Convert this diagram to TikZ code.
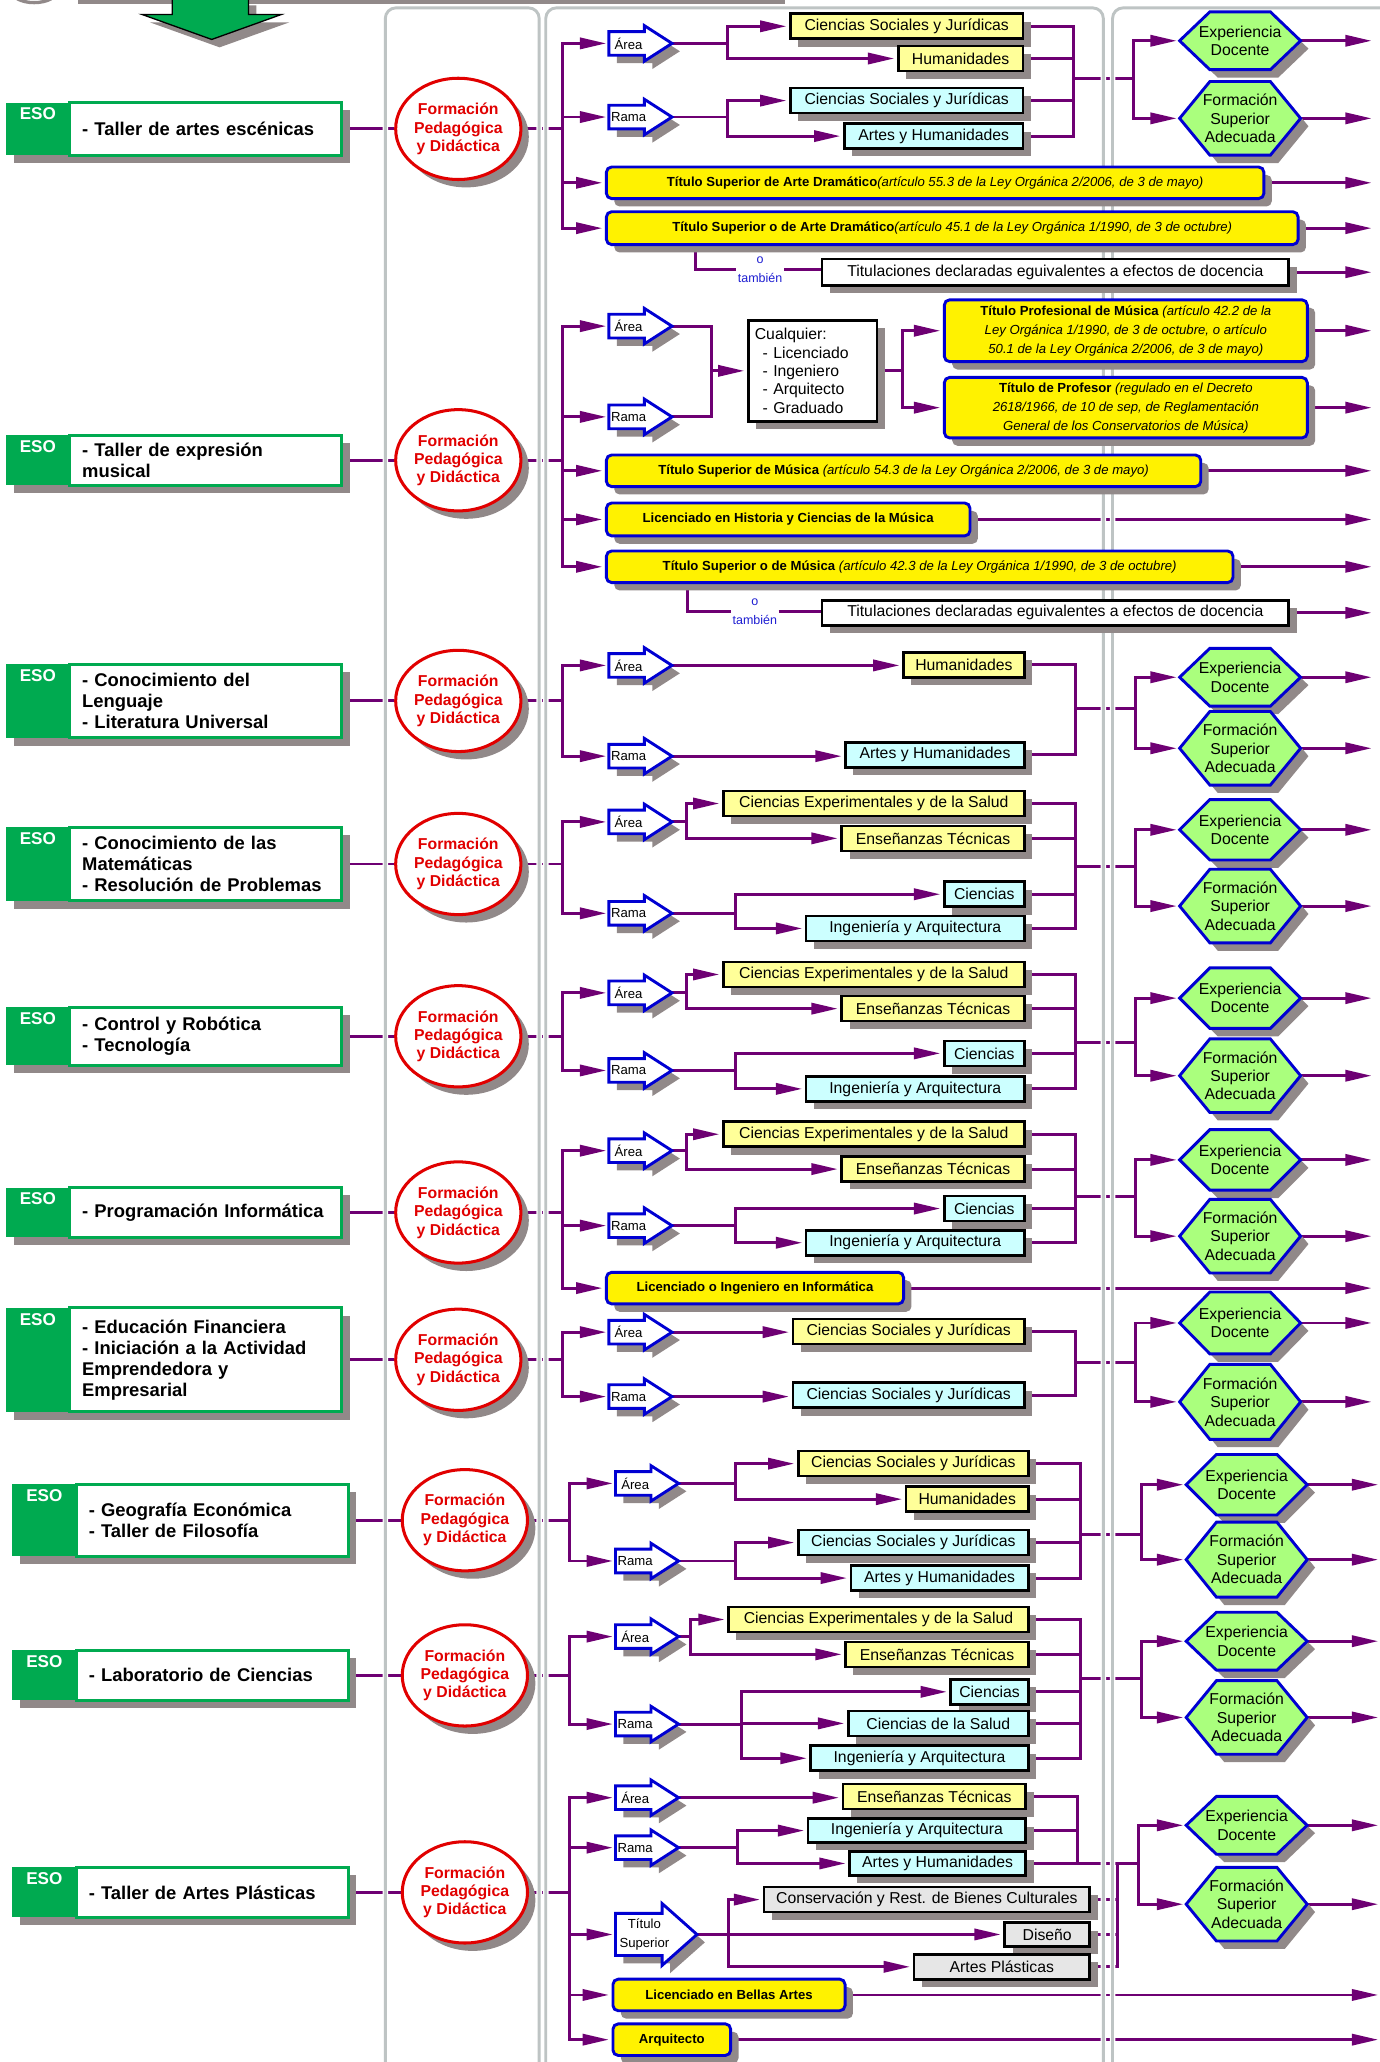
\documentclass[tikz,border=0pt]{standalone}
\usepackage{fontspec}
\setmainfont{Liberation Sans}
\usetikzlibrary{shapes.geometric,shadows,arrows.meta}

\definecolor{lpurple}{RGB}{110,0,115}
\definecolor{shgray}{RGB}{145,137,137}
\definecolor{colgray}{RGB}{190,196,196}
\definecolor{esogreen}{RGB}{0,170,80}
\definecolor{bblue}{RGB}{0,0,210}
\definecolor{lyellow}{RGB}{255,255,153}
\definecolor{lcyan}{RGB}{204,255,255}
\definecolor{lgray}{RGB}{230,230,230}
\definecolor{hexgreen}{RGB}{170,255,125}
\definecolor{fred}{RGB}{225,0,0}
\definecolor{tblue}{RGB}{30,30,210}

\pgfdeclarelayer{lines}
\pgfdeclarelayer{cols}
\pgfsetlayers{lines,cols,main}

\tikzset{
  sh/.style={drop shadow={shadow xshift=6pt,shadow yshift=-6pt,fill=shgray,opacity=1}},
  link/.style={draw=lpurple,line width=2.2pt},
  toarrow/.style={-{Triangle[length=20pt,width=8.5pt]},shorten >=2pt},
  colline/.style={draw=white,double=colgray,double distance=2.2pt,line width=1pt},
  esobox/.style={draw=esogreen,line width=2.2pt,fill=white,sh,minimum width=207pt,text width=188pt,
    inner xsep=9.5pt,inner ysep=0pt,align=left,font=\fontsize{14}{16}\selectfont\bfseries},
  esotab/.style={fill=esogreen,sh,minimum width=48.5pt,inner sep=0pt},
  esolbl/.style={anchor=north,text=white,inner sep=4pt,font=\fontsize{13}{15}\selectfont\bfseries},
  fpd/.style={ellipse,draw=fred,line width=2.3pt,fill=white,sh,minimum width=93pt,minimum height=77pt,
    inner sep=0pt,align=center,text=fred,font=\fontsize{12}{14}\selectfont\bfseries},
  abox/.style={draw=black,line width=2pt,sh,minimum height=19pt,inner sep=0pt,anchor=east,
    font=\fontsize{12}{14}\selectfont},
  ly/.style={abox,fill=lyellow},
  lc/.style={abox,fill=lcyan},
  lg/.style={abox,fill=lgray},
  lw/.style={abox,fill=white},
  ybox/.style={draw=bblue,fill=yellow,line width=2.2pt,rounded corners=4pt,sh,inner sep=0pt,
    minimum height=24pt,anchor=west,align=center,font=\fontsize{10}{14.5}\selectfont},
  hexline/.style={draw=bblue,line width=2.2pt,fill=hexgreen,sh},
  hextext/.style={minimum width=92pt,inner sep=0pt,align=center,font=\fontsize{12}{14}\selectfont},
  arline/.style={draw=bblue,line width=2.2pt,fill=white,sh},
  artext/.style={inner sep=0pt,align=center,font=\fontsize{10}{14}\selectfont},
  tam/.style={text=tblue,align=center,fill=white,inner sep=1pt,font=\fontsize{9.5}{14}\selectfont}
}

% ESO subject box: name, y, height, text
\newcommand{\eso}[4]{%
  \node[esotab,minimum height=#3,label={[esolbl]north:ESO}] (#1t) at (28.75,#2) {};
  \node[esobox,minimum height=#3] (#1) at (156.5,#2) {#4};}
% hexagon: name, y, height, text
\newcommand{\hexa}[4]{%
  \draw[hexline] (897,#2) -- (920,#2-#3/2) -- (966,#2-#3/2) -- (989,#2) -- (966,#2+#3/2) -- (920,#2+#3/2) -- cycle;
  \node[hextext,minimum height=#3] (#1) at (943,#2) {#4};}
% Area / Rama arrow: name, x, y, text
\newcommand{\arbox}[4]{%
  \begin{scope}[shift={(#2,#3)}]
    \draw[arline] (0,-9) -- (27,-9) -- (27,-13.5) -- (48,0) -- (27,13.5) -- (27,9) -- (0,9) -- cycle;
    \node[artext] (#1) at (15,0) {#4};
    \coordinate (#1w) at (0,0);
    \coordinate (#1e) at (48,0);
  \end{scope}}

\begin{document}
\begin{tikzpicture}[x=1pt,y=-1pt]
\useasboundingbox (0,0) rectangle (1049,1568);
\coordinate (edge) at (1045,0);

% top
\fill[shgray] (59,-1) rectangle (597,3);
\draw[shgray,line width=2.5pt] (13,-1) .. controls (20,3) and (32,3) .. (39,-1);
\draw[black,line width=1pt,fill=esogreen,sh] (131,-2) -- (131,11) -- (108,11) -- (161,30) -- (214,11) -- (189,11) -- (189,-2);

% columns
\begin{pgfonlayer}{cols}
\draw[colline,rounded corners=8pt] (293,1600) |- (410,6) -- (410,1600);
\draw[colline,rounded corners=8pt] (415,1600) |- (839,6) -- (839,1600);
\draw[colline,rounded corners=8pt] (846,1600) |- (1100,6);
\end{pgfonlayer}

% row 1: artes escenicas
\eso{e1}{98}{40}{- Taller de artes escénicas}
\node[fpd] (f1) at (348.5,98) {Formación\\Pedagógica\\y Didáctica};
\coordinate (t1) at (428,98);
\arbox{a1}{463}{33}{Área}
\arbox{r1}{463}{89}{Rama}
\node[ly,minimum width=177pt] (csj1) at (779,20) {Ciencias Sociales y Jurídicas};
\node[ly,minimum width=95pt] (hum1) at (779,44.5) {Humanidades};
\node[lc,minimum width=177pt] (csjr1) at (779,76.5) {Ciencias Sociales y Jurídicas};
\node[lc,minimum width=136pt] (ayh1) at (779,103.5) {Artes y Humanidades};
\node[ybox,minimum width=500pt] (tad1) at (460,139) {\textbf{Título Superior de Arte Dramático}\textit{(artículo 55.3 de la Ley Orgánica 2/2006, de 3 de mayo)}};
\node[ybox,minimum width=526pt,minimum height=25pt] (tad2) at (460,173.5) {\textbf{Título Superior o de Arte Dramático}\textit{(artículo 45.1 de la Ley Orgánica 1/1990, de 3 de octubre)}};
\node[tam] (ot1) at (578,205) {o\\también};
\node[lw,minimum width=355pt,minimum height=20pt] (teq1) at (981,207) {Titulaciones declaradas eguivalentes a efectos de docencia};
\hexa{x1}{31}{44}{Experiencia\\Docente}
\hexa{y1}{90}{56}{Formación\\Superior\\Adecuada}
\coordinate (ab1) at (553,33); \coordinate (rb1) at (553,89);
\coordinate (c1) at (816,60); \coordinate (hb1) at (862,60);
\coordinate (o1) at (529,186);
\begin{pgfonlayer}{lines}
\draw[link] (e1) -- (f1) -- (t1);
\draw[link,toarrow] (t1) |- (a1w);
\draw[link,toarrow] (t1) |- (r1w);
\draw[link,toarrow] (t1) |- (tad1.west);
\draw[link,toarrow] (t1) |- (tad2.west);
\draw[link] (a1e) -- (ab1); \draw[link] (r1e) -- (rb1);
\draw[link,toarrow] (ab1) |- (csj1.west);
\draw[link,toarrow] (ab1) |- (hum1.west);
\draw[link,toarrow] (rb1) |- (csjr1.west);
\draw[link,toarrow] (rb1) |- (ayh1.west);
\draw[link] (csj1.east) -| (c1); \draw[link] (hum1.east) -| (c1);
\draw[link] (csjr1.east) -| (c1); \draw[link] (ayh1.east) -| (c1);
\draw[link] (c1) -- (hb1);
\draw[link,toarrow] (hb1) |- (x1.west);
\draw[link,toarrow] (hb1) |- (y1.west);
\draw[link] (o1) |- (ot1.west);
\draw[link] (ot1.east) -- (ot1.east -| teq1.west);
\foreach \n in {x1,y1,tad1,tad2,teq1}
  \draw[link,toarrow] (\n.east) -- (\n.east -| edge);
\end{pgfonlayer}

% row 2: expresion musical
\eso{e2}{350}{38}{- Taller de expresión\\musical}
\node[fpd] (f2) at (348.5,350) {Formación\\Pedagógica\\y Didáctica};
\coordinate (t2) at (428,350);
\arbox{a2}{463}{248}{Área}
\arbox{r2}{463}{317}{Rama}
\node[lw,minimum width=98pt,minimum height=77pt,align=left,text width=88pt,inner xsep=5pt] (cq2) at (668,282)
  {Cualquier:\\\hspace*{6pt}- Licenciado\\\hspace*{6pt}- Ingeniero\\\hspace*{6pt}- Arquitecto\\\hspace*{6pt}- Graduado};
\node[ybox,minimum width=276pt,minimum height=47pt] (tpm2) at (717,251.5) {\textbf{Título Profesional de Música} \textit{(artículo 42.2 de la}\\\textit{Ley Orgánica 1/1990, de 3 de octubre, o artículo}\\\textit{50.1 de la Ley Orgánica 2/2006, de 3 de mayo)}};
\node[ybox,minimum width=276pt,minimum height=46pt] (tpr2) at (717,310) {\textbf{Título de Profesor} \textit{(regulado en el Decreto}\\\textit{2618/1966, de 10 de sep, de Reglamentación}\\\textit{General de los Conservatorios de Música)}};
\node[ybox,minimum width=452pt] (tsm2) at (460,358) {\textbf{Título Superior de Música} \textit{(artículo 54.3 de la Ley Orgánica 2/2006, de 3 de mayo)}};
\node[ybox,minimum width=276.5pt,minimum height=25pt] (lhm2) at (460,395) {\textbf{Licenciado en Historia y Ciencias de la Música}};
\node[ybox,minimum width=476.5pt] (tso2) at (460,431) {\textbf{Título Superior o de Música} \textit{(artículo 42.3 de la Ley Orgánica 1/1990, de 3 de octubre)}};
\node[tam] (ot2) at (574,465) {o\\también};
\node[lw,minimum width=355pt] (teq2) at (981,466) {Titulaciones declaradas eguivalentes a efectos de docencia};
\coordinate (cb2) at (541,282); \coordinate (cp2) at (686,282);
\coordinate (o2) at (523,443);
\begin{pgfonlayer}{lines}
\draw[link] (e2) -- (f2) -- (t2);
\foreach \n in {a2w,r2w,tsm2.west,lhm2.west,tso2.west}
  \draw[link,toarrow] (t2) |- (\n);
\draw[link] (a2e) -| (cb2); \draw[link] (r2e) -| (cb2);
\draw[link,toarrow] (cb2) -- (cq2.west);
\draw[link] (cq2.east) -- (cp2);
\draw[link,toarrow] (cp2) |- (tpm2.west);
\draw[link,toarrow] (cp2) |- (tpr2.west);
\draw[link] (o2) |- (ot2.west);
\draw[link] (ot2.east) -- (ot2.east -| teq2.west);
\foreach \n in {tpm2,tpr2,tsm2,lhm2,tso2,teq2}
  \draw[link,toarrow] (\n.east) -- (\n.east -| edge);
\end{pgfonlayer}

% row 3: lenguaje
\eso{e3}{533}{56}{- Conocimiento del\\Lenguaje\\- Literatura Universal}
\node[fpd] (f3) at (348.5,533) {Formación\\Pedagógica\\y Didáctica};
\coordinate (t3) at (428,533);
\arbox{a3}{463}{506}{Área}
\arbox{r3}{463}{575}{Rama}
\node[ly,minimum width=92pt] (hum3) at (780,505.5) {Humanidades};
\node[lc,minimum width=136pt] (ayh3) at (780,574) {Artes y Humanidades};
\hexa{x3}{515}{44}{Experiencia\\Docente}
\hexa{y3}{569}{56}{Formación\\Superior\\Adecuada}
\coordinate (c3) at (818,538.5); \coordinate (hb3) at (863.5,538.5);
\begin{pgfonlayer}{lines}
\draw[link] (e3) -- (f3) -- (t3);
\draw[link,toarrow] (t3) |- (a3w);
\draw[link,toarrow] (t3) |- (r3w);
\draw[link,toarrow] (a3e) -- (a3e -| hum3.west);
\draw[link,toarrow] (r3e) -- (r3e -| ayh3.west);
\draw[link] (hum3.east) -| (c3); \draw[link] (ayh3.east) -| (c3);
\draw[link] (c3) -- (hb3);
\draw[link,toarrow] (hb3) |- (x3.west);
\draw[link,toarrow] (hb3) |- (y3.west);
\foreach \n in {x3,y3}
  \draw[link,toarrow] (\n.east) -- (\n.east -| edge);
\end{pgfonlayer}

% row 4: matematicas
\eso{e4}{657}{56}{- Conocimiento de las\\Matemáticas\\- Resolución de Problemas}
\node[fpd] (f4) at (348.5,657) {Formación\\Pedagógica\\y Didáctica};
\coordinate (t4) at (428,657);
\arbox{a4}{463}{625}{Área}
\arbox{r4}{463}{694.5}{Rama}
\node[ly,minimum width=229pt] (cey4) at (780,611) {Ciencias Experimentales y de la Salud};
\node[ly,minimum width=139pt] (et4) at (780,637.5) {Enseñanzas Técnicas};
\node[lc,minimum width=61pt] (cie4) at (780,680) {Ciencias};
\node[lc,minimum width=166pt] (ing4) at (780,706) {Ingeniería y Arquitectura};
\hexa{x4}{631}{46}{Experiencia\\Docente}
\hexa{y4}{689}{56}{Formación\\Superior\\Adecuada}
\coordinate (ab4) at (522,625); \coordinate (rb4) at (559,694.5);
\coordinate (c4) at (818,659); \coordinate (hb4) at (863.5,659);
\begin{pgfonlayer}{lines}
\draw[link] (e4) -- (f4) -- (t4);
\draw[link,toarrow] (t4) |- (a4w);
\draw[link,toarrow] (t4) |- (r4w);
\draw[link] (a4e) -- (ab4); \draw[link] (r4e) -- (rb4);
\draw[link,toarrow] (ab4) |- (cey4.west);
\draw[link,toarrow] (ab4) |- (et4.west);
\draw[link,toarrow] (rb4) |- (cie4.west);
\draw[link,toarrow] (rb4) |- (ing4.west);
\foreach \n in {cey4,et4,cie4,ing4}
  \draw[link] (\n.east) -| (c4);
\draw[link] (c4) -- (hb4);
\draw[link,toarrow] (hb4) |- (x4.west);
\draw[link,toarrow] (hb4) |- (y4.west);
\foreach \n in {x4,y4}
  \draw[link,toarrow] (\n.east) -- (\n.east -| edge);
\end{pgfonlayer}

% row 5: robotica
\eso{e5}{788}{44}{- Control y Robótica\\- Tecnología}
\node[fpd] (f5) at (348.5,788) {Formación\\Pedagógica\\y Didáctica};
\coordinate (t5) at (428,788);
\arbox{a5}{463}{755}{Área}
\arbox{r5}{463}{814}{Rama}
\node[ly,minimum width=229pt] (cey5) at (780,741) {Ciencias Experimentales y de la Salud};
\node[ly,minimum width=139pt] (et5) at (780,767) {Enseñanzas Técnicas};
\node[lc,minimum width=61pt] (cie5) at (780,801) {Ciencias};
\node[lc,minimum width=166pt] (ing5) at (780,828) {Ingeniería y Arquitectura};
\hexa{x5}{759}{46}{Experiencia\\Docente}
\hexa{y5}{818}{56}{Formación\\Superior\\Adecuada}
\coordinate (ab5) at (522,755); \coordinate (rb5) at (559,814);
\coordinate (c5) at (818,792.5); \coordinate (hb5) at (863.5,792.5);
\begin{pgfonlayer}{lines}
\draw[link] (e5) -- (f5) -- (t5);
\draw[link,toarrow] (t5) |- (a5w);
\draw[link,toarrow] (t5) |- (r5w);
\draw[link] (a5e) -- (ab5); \draw[link] (r5e) -- (rb5);
\draw[link,toarrow] (ab5) |- (cey5.west);
\draw[link,toarrow] (ab5) |- (et5.west);
\draw[link,toarrow] (rb5) |- (cie5.west);
\draw[link,toarrow] (rb5) |- (ing5.west);
\foreach \n in {cey5,et5,cie5,ing5}
  \draw[link] (\n.east) -| (c5);
\draw[link] (c5) -- (hb5);
\draw[link,toarrow] (hb5) |- (x5.west);
\draw[link,toarrow] (hb5) |- (y5.west);
\foreach \n in {x5,y5}
  \draw[link,toarrow] (\n.east) -- (\n.east -| edge);
\end{pgfonlayer}

% row 6: programacion
\eso{e6}{922}{38}{- Programación Informática}
\node[fpd] (f6) at (348.5,922) {Formación\\Pedagógica\\y Didáctica};
\coordinate (t6) at (428,922);
\arbox{a6}{463}{875}{Área}
\arbox{r6}{463}{932}{Rama}
\node[ly,minimum width=229pt] (cey6) at (780,862.5) {Ciencias Experimentales y de la Salud};
\node[ly,minimum width=139pt] (et6) at (780,889) {Enseñanzas Técnicas};
\node[lc,minimum width=61pt] (cie6) at (780,919) {Ciencias};
\node[lc,minimum width=166pt] (ing6) at (780,945) {Ingeniería y Arquitectura};
\node[ybox,minimum width=226pt] (lii6) at (460,979.5) {\textbf{Licenciado o Ingeniero en Informática}};
\hexa{x6}{882}{46}{Experiencia\\Docente}
\hexa{y6}{940}{56}{Formación\\Superior\\Adecuada}
\coordinate (ab6) at (522,875); \coordinate (rb6) at (559,932);
\coordinate (c6) at (818,910); \coordinate (hb6) at (863.5,910);
\begin{pgfonlayer}{lines}
\draw[link] (e6) -- (f6) -- (t6);
\draw[link,toarrow] (t6) |- (a6w);
\draw[link,toarrow] (t6) |- (r6w);
\draw[link,toarrow] (t6) |- (lii6.west);
\draw[link] (a6e) -- (ab6); \draw[link] (r6e) -- (rb6);
\draw[link,toarrow] (ab6) |- (cey6.west);
\draw[link,toarrow] (ab6) |- (et6.west);
\draw[link,toarrow] (rb6) |- (cie6.west);
\draw[link,toarrow] (rb6) |- (ing6.west);
\foreach \n in {cey6,et6,cie6,ing6}
  \draw[link] (\n.east) -| (c6);
\draw[link] (c6) -- (hb6);
\draw[link,toarrow] (hb6) |- (x6.west);
\draw[link,toarrow] (hb6) |- (y6.west);
\foreach \n in {x6,y6,lii6}
  \draw[link,toarrow] (\n.east) -- (\n.east -| edge);
\end{pgfonlayer}

% row 7: financiera
\eso{e7}{1034}{79}{- Educación Financiera\\- Iniciación a la Actividad\\Emprendedora y\\Empresarial}
\node[fpd] (f7) at (348.5,1034) {Formación\\Pedagógica\\y Didáctica};
\coordinate (t7) at (428,1034);
\arbox{a7}{463}{1013}{Área}
\arbox{r7}{463}{1062}{Rama}
\node[ly,minimum width=176pt] (csj7) at (780,1012.5) {Ciencias Sociales y Jurídicas};
\node[lc,minimum width=176pt] (csjr7) at (780,1061) {Ciencias Sociales y Jurídicas};
\hexa{x7}{1006}{47}{Experiencia\\Docente}
\hexa{y7}{1066}{57}{Formación\\Superior\\Adecuada}
\coordinate (c7) at (818,1036); \coordinate (hb7) at (863.5,1036);
\begin{pgfonlayer}{lines}
\draw[link] (e7) -- (f7) -- (t7);
\draw[link,toarrow] (t7) |- (a7w);
\draw[link,toarrow] (t7) |- (r7w);
\draw[link,toarrow] (a7e) -- (a7e -| csj7.west);
\draw[link,toarrow] (r7e) -- (r7e -| csjr7.west);
\draw[link] (csj7.east) -| (c7); \draw[link] (csjr7.east) -| (c7);
\draw[link] (c7) -- (hb7);
\draw[link,toarrow] (hb7) |- (x7.west);
\draw[link,toarrow] (hb7) |- (y7.west);
\foreach \n in {x7,y7}
  \draw[link,toarrow] (\n.east) -- (\n.east -| edge);
\end{pgfonlayer}

\begin{scope}[xshift=5pt]
\coordinate (edgeb) at (1045,0);

% row 8: geografia
\eso{e8}{1156}{55}{- Geografía Económica\\- Taller de Filosofía}
\node[fpd] (f8) at (348.5,1156) {Formación\\Pedagógica\\y Didáctica};
\coordinate (t8) at (428,1156);
\arbox{a8}{463}{1128}{Área}
\arbox{r8}{463}{1187}{Rama}
\node[ly,minimum width=175pt] (csj8) at (778,1113) {Ciencias Sociales y Jurídicas};
\node[ly,minimum width=93pt] (hum8) at (778,1140) {Humanidades};
\node[lc,minimum width=175pt] (csjr8) at (778,1173) {Ciencias Sociales y Jurídicas};
\node[lc,minimum width=135pt] (ayh8) at (778,1200) {Artes y Humanidades};
\hexa{x8}{1129}{46}{Experiencia\\Docente}
\hexa{y8}{1186}{57}{Formación\\Superior\\Adecuada}
\coordinate (ab8) at (554,1128); \coordinate (rb8) at (554,1187);
\coordinate (c8) at (816.5,1167); \coordinate (hb8) at (863,1167);
\begin{pgfonlayer}{lines}
\draw[link] (e8) -- (f8) -- (t8);
\draw[link,toarrow] (t8) |- (a8w);
\draw[link,toarrow] (t8) |- (r8w);
\draw[link] (a8e) -- (ab8); \draw[link] (r8e) -- (rb8);
\draw[link,toarrow] (ab8) |- (csj8.west);
\draw[link,toarrow] (ab8) |- (hum8.west);
\draw[link,toarrow] (rb8) |- (csjr8.west);
\draw[link,toarrow] (rb8) |- (ayh8.west);
\foreach \n in {csj8,hum8,csjr8,ayh8}
  \draw[link] (\n.east) -| (c8);
\draw[link] (c8) -- (hb8);
\draw[link,toarrow] (hb8) |- (x8.west);
\draw[link,toarrow] (hb8) |- (y8.west);
\foreach \n in {x8,y8}
  \draw[link,toarrow] (\n.east) -- (\n.east -| edgeb);
\end{pgfonlayer}

% row 9: laboratorio
\eso{e9}{1274}{38}{- Laboratorio de Ciencias}
\node[fpd] (f9) at (348.5,1274) {Formación\\Pedagógica\\y Didáctica};
\coordinate (t9) at (428,1274);
\arbox{a9}{463}{1244.5}{Área}
\arbox{r9}{463}{1311}{Rama}
\node[ly,minimum width=228pt] (cey9) at (778,1231.5) {Ciencias Experimentales y de la Salud};
\node[ly,minimum width=139pt] (et9) at (778,1258) {Enseñanzas Técnicas};
\node[lc,minimum width=59pt] (cie9) at (778,1286.5) {Ciencias};
\node[lc,minimum width=137pt] (cds9) at (778,1310.5) {Ciencias de la Salud};
\node[lc,minimum width=165.5pt] (ing9) at (778,1337) {Ingeniería y Arquitectura};
\hexa{x9}{1248}{44}{Experiencia\\Docente}
\hexa{y9}{1306}{56}{Formación\\Superior\\Adecuada}
\coordinate (ab9) at (520,1244.5); \coordinate (rb9) at (559,1311);
\coordinate (c9) at (816.5,1276.5); \coordinate (hb9) at (863,1276.5);
\begin{pgfonlayer}{lines}
\draw[link] (e9) -- (f9) -- (t9);
\draw[link,toarrow] (t9) |- (a9w);
\draw[link,toarrow] (t9) |- (r9w);
\draw[link] (a9e) -- (ab9); \draw[link] (r9e) -- (rb9);
\draw[link,toarrow] (ab9) |- (cey9.west);
\draw[link,toarrow] (ab9) |- (et9.west);
\draw[link,toarrow] (rb9) |- (cie9.west);
\draw[link,toarrow] (rb9) |- (cds9.west);
\draw[link,toarrow] (rb9) |- (ing9.west);
\foreach \n in {cey9,et9,cie9,cds9,ing9}
  \draw[link] (\n.east) -| (c9);
\draw[link] (c9) -- (hb9);
\draw[link,toarrow] (hb9) |- (x9.west);
\draw[link,toarrow] (hb9) |- (y9.west);
\foreach \n in {x9,y9}
  \draw[link,toarrow] (\n.east) -- (\n.east -| edgeb);
\end{pgfonlayer}

% row 10: artes plasticas
\eso{e10}{1439}{38}{- Taller de Artes Plásticas}
\node[fpd] (f10) at (348.5,1439) {Formación\\Pedagógica\\y Didáctica};
\coordinate (t10) at (428,1439);
\arbox{a10}{463}{1367}{Área}
\arbox{r10}{463}{1405}{Rama}
\begin{scope}[shift={(463,1471)}]
  \draw[arline] (0,-16) -- (35.5,-16) -- (35.5,-23.5) -- (62,0) -- (35.5,23.5) -- (35.5,16) -- (0,16) -- cycle;
  \node[artext] (tsa10) at (22,0) {Título\\Superior};
  \coordinate (tsa10w) at (0,0);
  \coordinate (tsa10e) at (62,0);
\end{scope}
\node[ly,minimum width=139pt] (et10) at (776,1366) {Enseñanzas Técnicas};
\node[lc,minimum width=165.5pt,minimum height=18pt] (ing10) at (776,1392) {Ingeniería y Arquitectura};
\node[lc,minimum width=134pt,minimum height=18pt] (ayh10) at (776,1417) {Artes y Humanidades};
\node[lg,minimum width=247.6pt] (con10) at (824.6,1444.5) {Conservación y Rest. de Bienes Culturales};
\node[lg,minimum width=64.6pt,minimum height=18pt] (dis10) at (824.6,1471) {Diseño};
\node[lg,minimum width=133.6pt] (apl10) at (824.6,1495.6) {Artes Plásticas};
\node[ybox,minimum width=176.5pt] (lba10) at (460,1517) {\textbf{Licenciado en Bellas Artes}};
\node[ybox,minimum width=89.5pt] (arq10) at (460,1551) {\textbf{Arquitecto}};
\hexa{x10}{1388}{44}{Experiencia\\Docente}
\hexa{y10}{1448}{56}{Formación\\Superior\\Adecuada}
\coordinate (rb10) at (556,1405); \coordinate (ts10) at (549,1471);
\coordinate (c10) at (814.5,1417); \coordinate (g10) at (844.6,1417);
\coordinate (hb10) at (861,1417);
\begin{pgfonlayer}{lines}
\draw[link] (e10) -- (f10) -- (t10);
\foreach \n in {a10w,r10w,tsa10w,lba10.west,arq10.west}
  \draw[link,toarrow] (t10) |- (\n);
\draw[link,toarrow] (a10e) -- (a10e -| et10.west);
\draw[link] (r10e) -- (rb10);
\draw[link,toarrow] (rb10) |- (ing10.west);
\draw[link,toarrow] (rb10) |- (ayh10.west);
\draw[link] (tsa10e) -- (ts10);
\draw[link,toarrow] (ts10) |- (con10.west);
\draw[link,toarrow] (ts10) |- (dis10.west);
\draw[link,toarrow] (ts10) |- (apl10.west);
\draw[link] (et10.east) -| (c10); \draw[link] (ing10.east) -| (c10);
\draw[link] (ayh10.east) -| (c10);
\foreach \n in {con10,dis10,apl10}
  \draw[link] (\n.east) -| (g10);
\draw[link] (c10) -- (hb10);
\draw[link,toarrow] (hb10) |- (x10.west);
\draw[link,toarrow] (hb10) |- (y10.west);
\foreach \n in {x10,y10,lba10,arq10}
  \draw[link,toarrow] (\n.east) -- (\n.east -| edgeb);
\end{pgfonlayer}
\end{scope}
\end{tikzpicture}
\end{document}
